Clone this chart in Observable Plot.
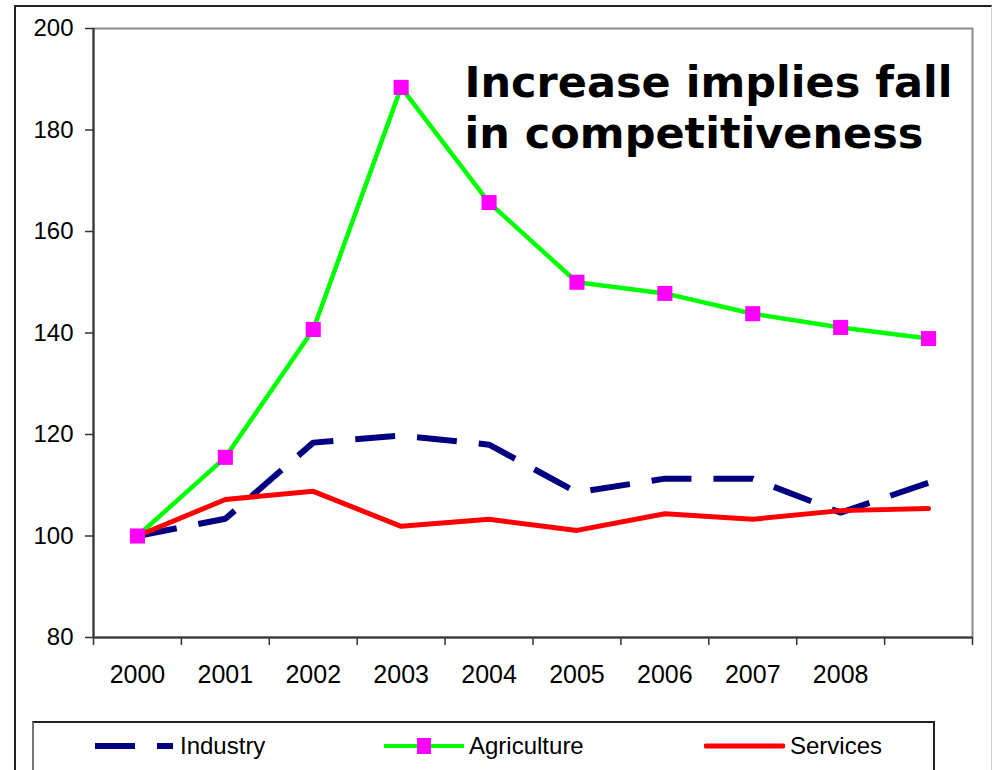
<!DOCTYPE html>
<html>
<head>
<meta charset="utf-8">
<script src="https://cdn.jsdelivr.net/npm/d3@7"></script>
<script src="https://cdn.jsdelivr.net/npm/@observablehq/plot@0.6"></script>
<style>
  body { margin: 0; background: #fff; }
  #wrap { position: relative; width: 996px; height: 770px; overflow: hidden; font-family: "Liberation Sans", Arial, sans-serif; }
  #outer { position: absolute; left: 14px; top: 5px; width: 978px; height: 820px; border-left: 2px solid #222; border-top: 2px solid #222; border-right: 1px solid #ccc; box-sizing: border-box; }
  #chart { position: absolute; left: 0; top: 0; }
  #legend { position: absolute; left: 32px; top: 721px; width: 903px; height: 80px; border: 2px solid #222; border-left-color: #777; box-sizing: border-box; background: #fff; }
  .item { position: absolute; top: 0; height: 46px; display: flex; align-items: center; font-size: 24px; color: #000; }
  .item svg { display: block; margin-right: 5px; }
</style>
</head>
<body>
<div id="wrap">
  <div id="outer"></div>
  <div id="chart"></div>
  <div id="legend"></div>
</div>
<script>
// Relative cost index, 2000 = 100
const years = [2000, 2001, 2002, 2003, 2004, 2005, 2006, 2007, 2008, 2009];
const yearLabels = ["2000", "2001", "2002", "2003", "2004", "2005", "2006", "2007", "2008"];
const industry    = [100, 103.4, 118.4, 119.8, 118.0, 108.6, 111.3, 111.3, 104.6, 110.5];
const agriculture = [100, 115.5, 140.7, 188.4, 165.7, 150.0, 147.8, 143.8, 141.1, 138.9];
const services    = [100, 107.2, 108.8, 101.9, 103.3, 101.1, 104.4, 103.3, 105.0, 105.4];
const yTicks = [80, 100, 120, 140, 160, 180, 200];
const seriesNames = ["Industry", "Agriculture", "Services"];
const seriesColors = ["#000080", "#00ff00", "#ff0000"];
const markerColor = "#ff00ff";
const note = "Increase implies fall\nin competitiveness";

const rows = vals => years.map((year, i) => ({year, value: vals[i]}));
const industryRows = rows(industry);
const agricultureRows = rows(agriculture);
const servicesRows = rows(services);

// Category boundaries for the x tick marks
const boundaries = years.map(y => y - 0.5).concat([years[years.length - 1] + 0.5]);

const chart = Plot.plot({
  width: 996,
  height: 712,
  marginLeft: 93,
  marginRight: 24,
  marginTop: 28,
  marginBottom: 75,
  style: {fontFamily: "'Liberation Sans', Arial, sans-serif", fontSize: "24px", color: "#000", background: "transparent", overflow: "visible"},
  x: {type: "linear", domain: [boundaries[0], boundaries[boundaries.length - 1]]},
  y: {domain: [yTicks[0], yTicks[yTicks.length - 1]]},
  marks: [
    Plot.frame({stroke: "#888", strokeWidth: 2}),
    Plot.axisY({ticks: yTicks, tickSize: 8, tickPadding: 12, tickFormat: d => String(d), stroke: "#333", strokeWidth: 1.5, fontSize: 24, label: null}),
    Plot.axisX({ticks: boundaries, tickSize: 8, tickFormat: () => "", stroke: "#333", strokeWidth: 1.5, label: null}),
    Plot.axisX({ticks: years.slice(0, yearLabels.length), tickSize: 0, tickPadding: 28, tickFormat: (d, i) => yearLabels[i], fontSize: 25, label: null}),
    Plot.ruleX([boundaries[0]], {stroke: "#333", strokeWidth: 2}),
    Plot.ruleY([yTicks[0]], {stroke: "#333", strokeWidth: 2}),
    Plot.line(industryRows, {x: "year", y: "value", stroke: seriesColors[0], strokeWidth: 6, strokeDasharray: "40,22", strokeLinecap: "butt", strokeLinejoin: "miter"}),
    Plot.line(agricultureRows, {x: "year", y: "value", stroke: seriesColors[1], strokeWidth: 4.5, strokeLinejoin: "miter"}),
    Plot.line(servicesRows, {x: "year", y: "value", stroke: seriesColors[2], strokeWidth: 5}),
    Plot.dot(agricultureRows, {x: "year", y: "value", symbol: "square", r: 8.5, fill: markerColor, stroke: "none"}),
    Plot.text([note], {text: d => d, frameAnchor: "top-left", dx: 371, dy: 32, textAnchor: "start", lineAnchor: "top", lineHeight: 1.19, fontSize: 43, fontWeight: "bold", fontFamily: "'DejaVu Sans', Verdana, sans-serif", fill: "#000"})
  ]
});
document.getElementById("chart").appendChild(chart);

// Legend below the plot
const legend = document.getElementById("legend");
const itemLeft = [61, 350, 670];
const swatchWidth = [80, 80, 81];
seriesNames.forEach((name, i) => {
  const item = document.createElement("div");
  item.className = "item";
  item.style.left = itemLeft[i] + "px";
  const w = swatchWidth[i];
  let svg = `<svg width="${w}" height="20">`;
  if (i === 0) {
    svg += `<line x1="0" x2="${w - 2}" y1="10" y2="10" stroke="${seriesColors[0]}" stroke-width="6" stroke-dasharray="40,22"/>`;
  } else if (i === 1) {
    svg += `<line x1="0" x2="${w}" y1="10" y2="10" stroke="${seriesColors[1]}" stroke-width="4" stroke-linecap="round"/>`;
    svg += `<rect x="${w / 2 - 7}" y="2" width="14" height="16" fill="${markerColor}"/>`;
  } else {
    svg += `<line x1="2" x2="${w - 2}" y1="10" y2="10" stroke="${seriesColors[2]}" stroke-width="5" stroke-linecap="round"/>`;
  }
  svg += `</svg>`;
  item.innerHTML = svg + `<span>${name}</span>`;
  legend.appendChild(item);
});
</script>
</body>
</html>
